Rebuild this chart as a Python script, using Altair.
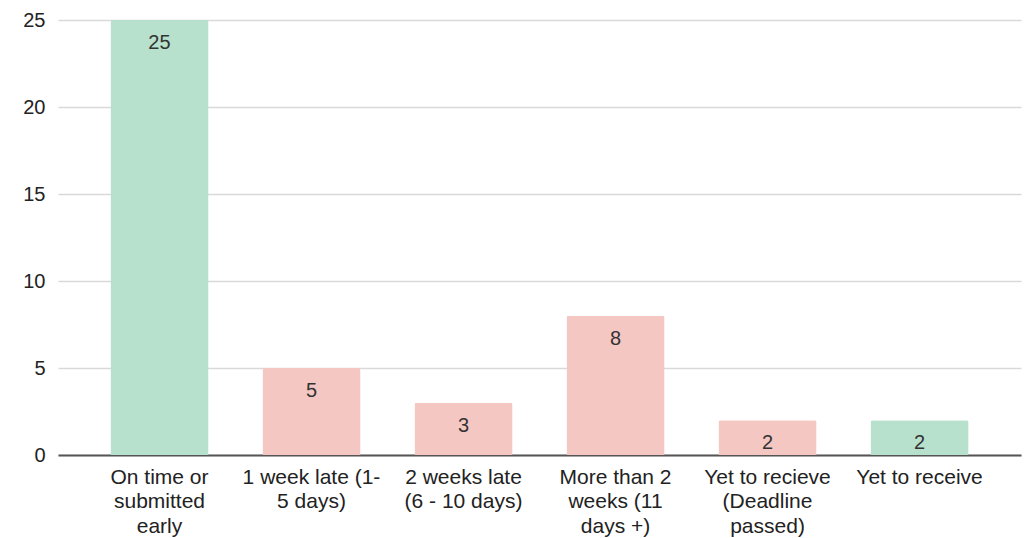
import altair as alt
import pandas as pd

categories = [
    "On time or|submitted|early",
    "1 week late (1-|5 days)",
    "2 weeks late|(6 - 10 days)",
    "More than 2|weeks (11|days +)",
    "Yet to recieve|(Deadline|passed)",
    "Yet to receive",
]
values = [25, 5, 3, 8, 2, 2]
colors = ["#b7e1cd", "#f4c7c3", "#f4c7c3", "#f4c7c3", "#f4c7c3", "#b7e1cd"]

df = pd.DataFrame({"cat": categories, "val": values, "color": colors})

FONT = "Liberation Sans"

x = alt.X(
    "cat:N",
    sort=categories,
    title=None,
    scale=alt.Scale(paddingInner=0.355, paddingOuter=0.345),
    axis=alt.Axis(
        labelExpr="split(datum.label, '|')",
        labelAngle=0,
        labelFontSize=21,
        labelLineHeight=24.5,
        labelColor="#222222",
        labelFont=FONT,
        labelPadding=11,
        ticks=False,
        domainColor="#555555",
        domainWidth=2,
        grid=False,
    ),
)
y = alt.Y(
    "val:Q",
    title=None,
    scale=alt.Scale(domain=[0, 25], nice=False),
    axis=alt.Axis(
        values=[0, 5, 10, 15, 20, 25],
        labelFontSize=20,
        labelColor="#222222",
        labelFont=FONT,
        labelPadding=13,
        ticks=False,
        domain=False,
        gridColor="#d9d9d9",
        gridWidth=1.5,
    ),
)

bars = alt.Chart(df).mark_bar(cornerRadiusTopLeft=2, cornerRadiusTopRight=2).encode(
    x=x, y=y, color=alt.Color("color:N", scale=None)
)
text = alt.Chart(df).mark_text(
    baseline="middle", dy=23, fontSize=20, font=FONT, color="#333333"
).encode(x=x, y=y, text="val:Q")

chart = (
    alt.layer(bars, text, view=alt.ViewBackground(stroke="transparent", strokeWidth=0))
    .properties(
        width=963,
        height=435,
        autosize=alt.AutoSizeParams(type="none"),
        padding={"left": 58, "top": 20, "right": 5, "bottom": 83},
    )
    .configure_view(strokeWidth=0, stroke="transparent")
    .configure(background="white")
)

chart.save("out.html", embed_options={"renderer": "svg", "actions": False})
